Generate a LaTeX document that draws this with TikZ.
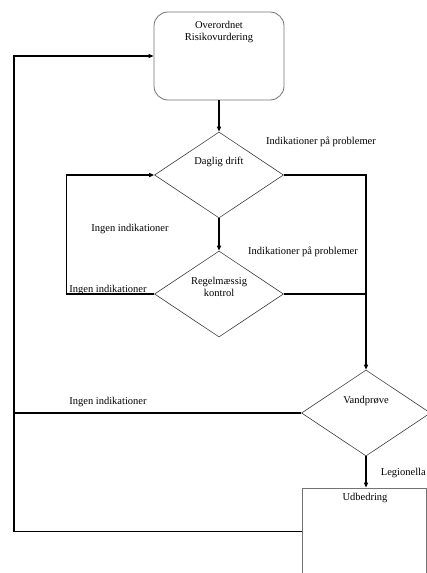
\documentclass[tikz,border=0pt]{standalone}
\usepackage{fontspec}
\setmainfont{Liberation Serif}
\usetikzlibrary{shapes.geometric}
\usetikzlibrary{arrows.meta}
\usetikzlibrary{positioning}

\tikzset{
  decision/.style={diamond,draw=black!75,line width=0.6pt,minimum width=129pt,
    minimum height=86pt,inner sep=0pt,aspect=1.5},
  process/.style={rectangle,draw=black!55,line width=0.8pt,minimum width=130pt,
    minimum height=88pt,inner sep=0pt},
  txt/.style={font=\fontsize{10.5}{12.8}\selectfont,align=center,inner sep=0pt},
  flow/.style={line width=1.4pt,black},
  arr/.style={flow,-{Triangle[length=5pt,width=4pt]}}
}

\begin{document}
\begin{tikzpicture}[x=1pt,y=1pt]
      \useasboundingbox (0,0) rectangle (427,-573);
      \clip (0,0) rectangle (427,-573);
      \coordinate (rail) at (14,0);
      % boxes and decisions
      \node[process,rounded corners=14pt] (risiko) at (219,-56) {};
      \node[txt,below=9pt of risiko.north] (risikotxt) {Overordnet\\Risikovurdering};
      \node[decision] (daglig) at (219,-175) {};
      \node[txt] (dagligtxt) at (219,-162) {Daglig drift};
      \node[decision] (regel) at (219,-294) {};
      \node[txt] (regeltxt) at (219,-287) {Regelmæssig\\kontrol};
      \node[decision] (vand) at (366,-413) {};
      \node[txt] (vandtxt) at (366,-401) {Vandprøve};
      \node[process,minimum width=124pt,minimum height=130pt] (udbed) at (364,-553) {};
      \node[txt] (udbedtxt) at (365,-498) {Udbedring};
      \coordinate (retur) at ([yshift=-44pt]udbed.north west);
      % connectors
      \draw[arr] (risiko) -- (daglig);
      \draw[arr] (daglig) -- (regel);
      \draw[arr] (daglig.east) -| (vand.north);
      \draw[flow] (regel.east) -- (regel.east -| vand.north);
      \draw[arr] (regel.west) -- ++(-88,0) |- (daglig.west);
      \draw[arr] (vand) -- (vand |- udbed.north);
      \draw[flow] (vand.west) -- (vand.west -| rail);
      \draw[arr] (retur) -| (rail |- risiko.west) -- (risiko.west);
      % labels
      \node[txt] (probA) at (321,-142) {Indikationer på problemer};
      \node[txt] (ingenA) at (130,-229) {Ingen indikationer};
      \node[txt] (probB) at (303,-252) {Indikationer på problemer};
      \node[txt] (ingenB) at (108,-290) {Ingen indikationer};
      \node[txt] (ingenC) at (108,-402) {Ingen indikationer};
      \node[txt,anchor=east] (legio) at (426,-473) {Legionella};
    \end{tikzpicture}
\end{document}
